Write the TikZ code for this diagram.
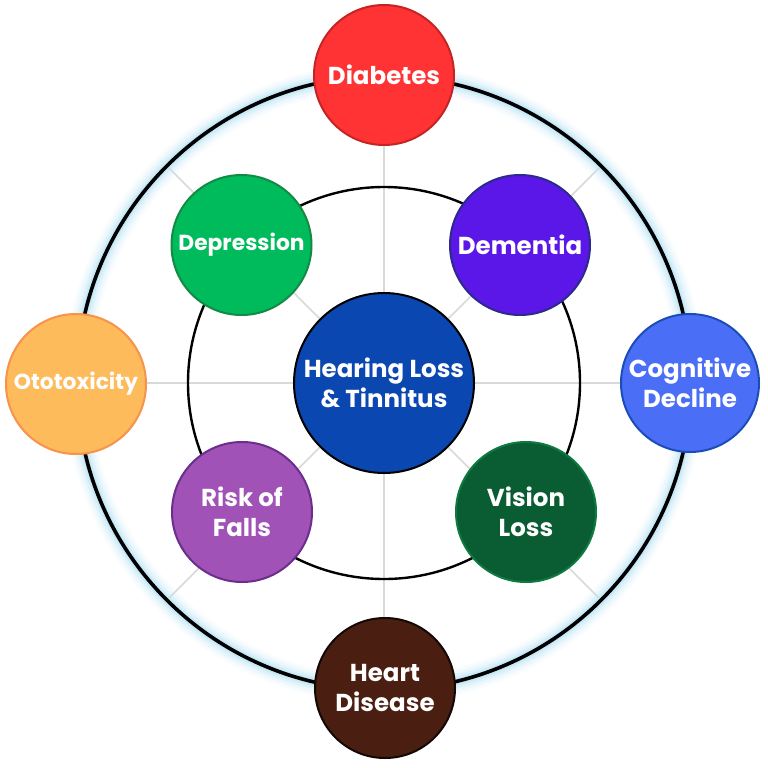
\documentclass[tikz,border=0pt]{standalone}
\usepackage{fontspec}
\setmainfont{Poppins}
\begin{document}
\begin{tikzpicture}[x=1pt,y=-1pt,
  bubble/.style={circle, line width=2pt, minimum size=#1, inner sep=0pt, align=center,
    text=white, font=\bfseries\fontsize{24.5}{30}\selectfont},
  smalltext/.style={font=\bfseries\fontsize{21.8}{30}\selectfont},
  spoke/.style={draw=black!15, line width=1.6pt},
  ring/.style={draw=black, line width=#1}]
\useasboundingbox[fill=white] (0,0) rectangle (768,768);
\definecolor{cDia}{HTML}{FF3333}\definecolor{bDia}{HTML}{C62424}
\definecolor{cDep}{HTML}{00BB5C}\definecolor{bDep}{HTML}{138A45}
\definecolor{cDem}{HTML}{5A17E8}\definecolor{bDem}{HTML}{2E2A8C}
\definecolor{cCog}{HTML}{4B6EF6}\definecolor{bCog}{HTML}{1B4DB8}
\definecolor{cOto}{HTML}{FDBB5B}\definecolor{bOto}{HTML}{F7934A}
\definecolor{cHea}{HTML}{4A1E10}\definecolor{bHea}{HTML}{140806}
\definecolor{cRis}{HTML}{A052B6}\definecolor{bRis}{HTML}{6B2E8C}
\definecolor{cVis}{HTML}{0A5C32}\definecolor{bVis}{HTML}{0E7A3F}
\definecolor{cCen}{HTML}{0A47B0}
\definecolor{glow}{HTML}{BDE6F7}
\coordinate (c) at (384,383);
% spokes
\foreach \a in {0,45,...,315}{
  \draw[spoke] (c) -- ++(\a:-309);
}
% glow of outer ring
\foreach \w/\o in {26/0.1,20/0.18,14/0.28,9/0.42,6/0.6}{
  \draw[glow, line width=\w pt, opacity=\o] (c) circle[radius=307];
}
\draw[ring=3.6pt] (c) circle[radius=307];
\draw[ring=2.4pt] (c) circle[radius=196];
% nodes
\node[bubble=180pt, fill=cCen, draw=black] (hl) at (c) {Hearing Loss\\\& Tinnitus};
\node[bubble=140pt, fill=cDia, draw=bDia] (dia) at (384,75) {Diabetes};
\node[bubble=138pt, fill=cCog, draw=bCog] (cog) at (690,383) {Cognitive\\Decline};
\node[bubble=140pt, fill=cOto, draw=bOto, smalltext] (oto) at (76,384) {Ototoxicity};
\node[bubble=140pt, fill=cHea, draw=bHea] (hea) at (385,688) {Heart\\Disease};
\node[bubble=140pt, fill=cDep, draw=bDep, smalltext] (dep) at (241.5,245) {Depression};
\node[bubble=140pt, fill=cDem, draw=bDem] (dem) at (520,245) {Dementia};
\node[bubble=140pt, fill=cRis, draw=bRis] (ris) at (242,512) {Risk of\\Falls};
\node[bubble=140pt, fill=cVis, draw=bVis] (vis) at (526,512) {Vision\\Loss};
\end{tikzpicture}
\end{document}
